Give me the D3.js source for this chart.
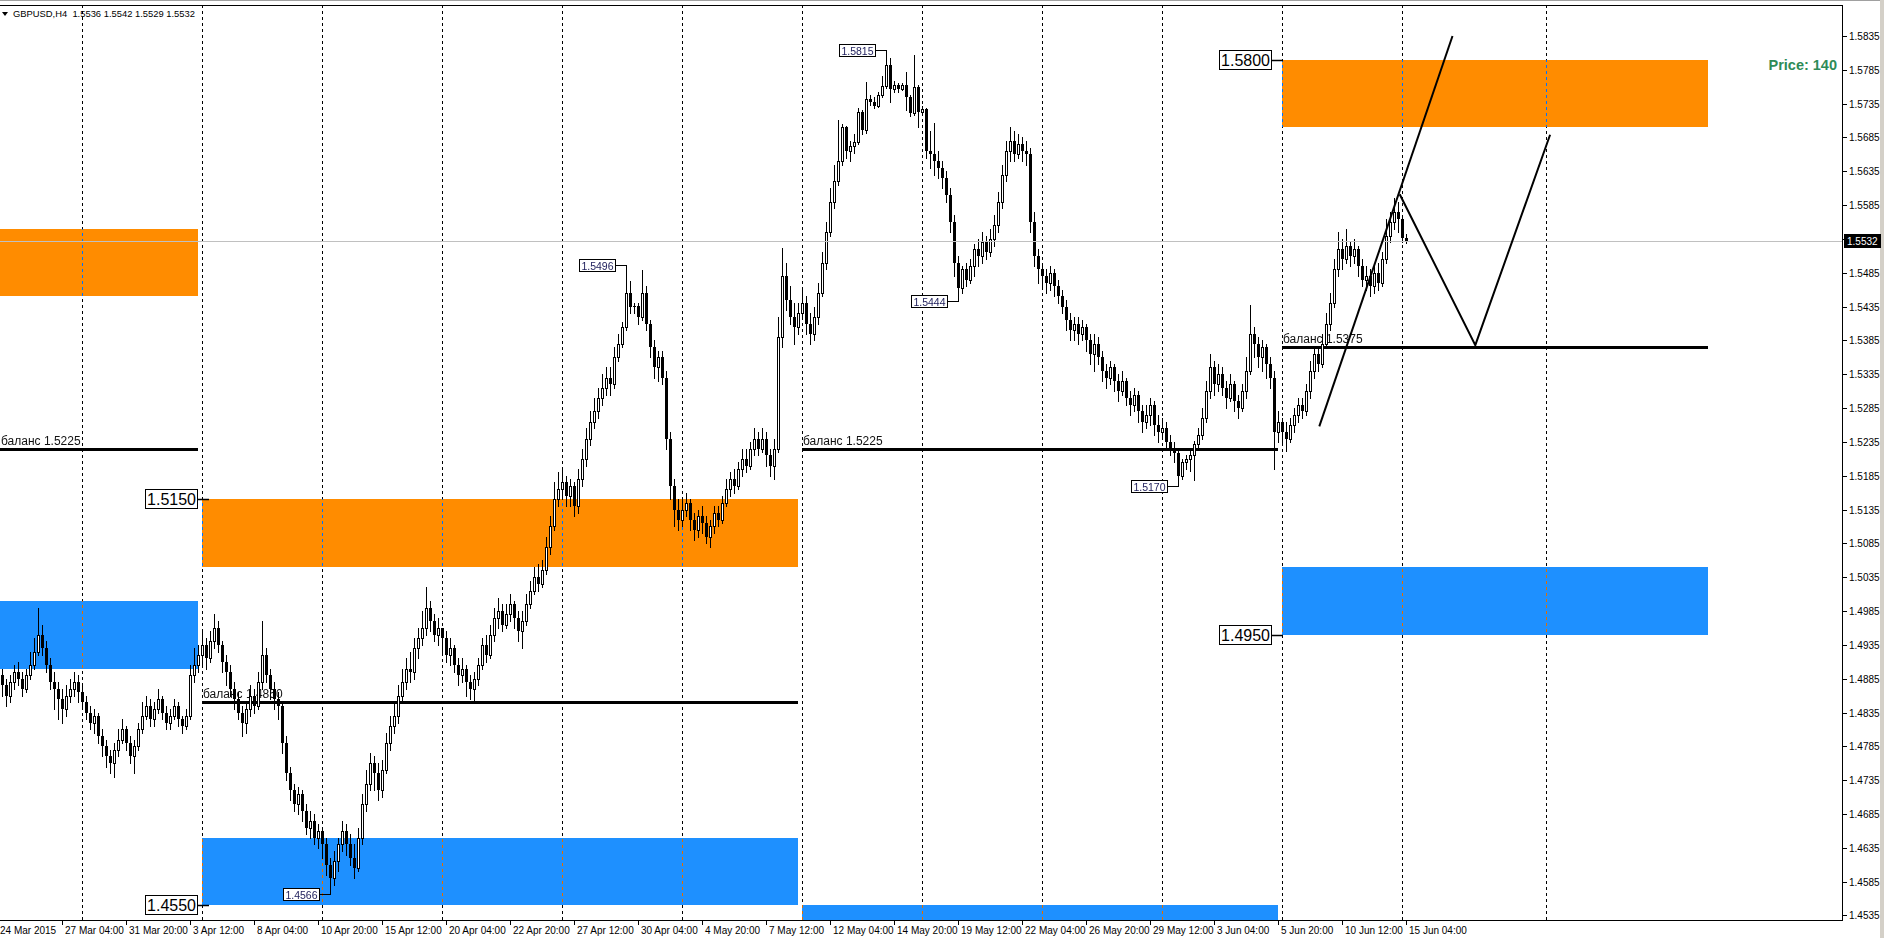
<!DOCTYPE html>
<html>
<head>
<meta charset="utf-8">
<script src="https://cdn.jsdelivr.net/npm/d3@7/dist/d3.min.js"></script>
<style>
	html, body { margin: 0; padding: 0; background: #fff; overflow: hidden; }
	svg { display: block; font-family: "Liberation Sans", Arial, sans-serif; }
</style>
</head>
<body>
<div id="chart"></div>
<script>
// GBPUSD H4. bar index 0 = 23 Mar 2015 00:00, 30 bars per trading week
// prices are stored as the 4 digits after "1." (4890 -> 1.4890), open = previous close
const symbol = 'GBPUSD,H4';
const firstBar = 9;
const firstOpen = 4880;

const closes = [
	4890,4875,4860,4880,4895,4885,4870,4890,4905,4925,4950,4930,4905,4880,4870,4855,4840,4860,4870,4880,4865,
	4850,4835,4820,4830,4800,4785,4770,4760,4780,4795,4810,4790,4770,4785,4810,4830,4845,4825,4840,4855,4835,4820,4830,4845,4825,4815,4830,4890,4905,4920,
	4935,4915,4940,4960,4935,4910,4895,4870,4855,4835,4820,4840,4860,4845,4880,4920,4890,4870,4855,4845,4790,4745,4720,4700,4715,4690,4665,4675,4650,4660,
	4640,4610,4590,4615,4640,4660,4640,4620,4605,4650,4700,4730,4760,4745,4720,4750,4790,4815,4830,4860,4880,4900,4895,4930,4945,4960,4990,4970,4950,4960,
	4945,4920,4930,4905,4890,4900,4880,4870,4885,4905,4935,4920,4950,4975,4985,4965,4980,4995,4975,4955,4970,4995,5015,5035,5025,5045,5080,5110,5150,5165,
	5175,5155,5170,5140,5180,5210,5240,5265,5280,5300,5315,5330,5320,5360,5380,5405,5455,5434,5436,5420,5455,5410,5375,5345,5360,5330,5240,5170,5135,5120,
	5135,5145,5120,5105,5125,5115,5095,5110,5130,5120,5145,5165,5180,5170,5195,5210,5200,5225,5240,5225,5240,5215,5200,5225,5390,5480,5445,5420,5405,5425,
	5440,5410,5395,5420,5455,5500,5545,5590,5620,5650,5700,5665,5672,5678,5723,5696,5742,5738,5732,5748,5761,5792,5756,5763,5757,5762,5745,5721,5760,5722,
	5727,5665,5660,5650,5640,5625,5600,5560,5500,5462,5490,5475,5495,5520,5510,5530,5515,5535,5555,5590,5630,5665,5680,5660,5675,5665,5660,5560,5510,5490,
	5480,5470,5485,5465,5450,5435,5415,5400,5410,5395,5405,5385,5365,5380,5360,5340,5330,5345,5325,5310,5325,5300,5290,5305,5280,5265,5275,5290,5260,5250,
	5255,5235,5225,5218,5184,5206,5210,5215,5232,5245,5270,5310,5345,5320,5335,5315,5300,5320,5295,5285,5310,5340,5395,5380,5360,5375,5350,5330,5250,5265,
	5250,5240,5260,5275,5290,5280,5310,5340,5365,5350,5380,5410,5440,5490,5520,5505,5525,5510,5520,5495,5475,5480,5465,5485,5470,5505,5540,5560,5575,5565,
	5536,5532
];
const highs = [
	4910,4900,4885,4890,4905,4910,4895,4900,4925,4945,4990,4965,4940,4915,4895,4880,4870,4875,4885,4895,4890,
	4875,4860,4845,4840,4835,4810,4795,4780,4790,4810,4825,4815,4800,4795,4820,4850,4860,4855,4850,4870,4860,4845,4840,4855,4850,4830,4840,4905,4930,4935,
	4955,4945,4955,4980,4970,4940,4920,4905,4880,4865,4845,4850,4875,4870,4895,4970,4930,4900,4880,4865,4850,4800,4755,4730,4725,4720,4700,4690,4685,4670,
	4665,4650,4620,4630,4650,4675,4670,4655,4640,4665,4715,4750,4775,4770,4760,4765,4805,4830,4850,4875,4900,4915,4925,4945,4960,4985,5020,5000,4980,4975,
	4960,4955,4945,4935,4915,4915,4905,4890,4895,4915,4945,4950,4965,4990,5005,4995,4995,5010,5000,4985,4985,5010,5030,5050,5055,5060,5095,5125,5175,5190,
	5195,5185,5180,5175,5195,5225,5255,5280,5300,5315,5335,5345,5345,5375,5395,5412,5496,5473,5440,5440,5489,5465,5415,5385,5370,5370,5340,5250,5180,5150,
	5150,5160,5150,5130,5135,5140,5125,5120,5140,5140,5155,5180,5190,5195,5205,5225,5225,5235,5255,5250,5255,5250,5225,5240,5420,5522,5500,5465,5440,5440,
	5460,5450,5425,5435,5470,5515,5560,5610,5645,5711,5705,5702,5680,5690,5728,5726,5767,5748,5745,5752,5776,5815,5802,5768,5766,5766,5782,5748,5807,5762,
	5732,5728,5694,5706,5665,5650,5635,5610,5570,5510,5495,5500,5505,5528,5535,5545,5540,5550,5570,5605,5645,5680,5700,5695,5690,5685,5680,5670,5575,5520,
	5500,5490,5495,5490,5475,5460,5445,5425,5420,5420,5415,5410,5395,5395,5390,5370,5350,5355,5350,5335,5340,5330,5310,5315,5310,5290,5290,5300,5295,5275,
	5270,5265,5245,5235,5222,5210,5215,5222,5236,5255,5285,5325,5365,5355,5350,5345,5325,5335,5325,5305,5320,5360,5438,5405,5390,5385,5380,5360,5340,5280,
	5270,5265,5270,5285,5300,5300,5320,5355,5375,5375,5395,5425,5455,5505,5545,5535,5550,5530,5535,5525,5505,5495,5490,5495,5500,5515,5565,5575,5595,5590,
	5570,5542
];
const lows = [
	4865,4860,4845,4850,4870,4875,4860,4865,4885,4900,4920,4920,4895,4870,4840,4825,4820,4830,4850,4860,4850,
	4840,4825,4810,4805,4790,4770,4755,4745,4740,4770,4790,4780,4760,4745,4780,4805,4825,4815,4815,4835,4825,4810,4810,4825,4815,4805,4810,4825,4880,4895,
	4905,4900,4910,4930,4925,4895,4875,4860,4840,4825,4800,4805,4830,4835,4840,4870,4880,4855,4840,4825,4775,4735,4705,4690,4685,4675,4655,4650,4640,4635,
	4620,4595,4566,4580,4600,4630,4625,4610,4590,4600,4640,4690,4720,4720,4705,4710,4745,4780,4805,4820,4850,4870,4880,4885,4915,4935,4950,4955,4940,4935,
	4925,4910,4905,4895,4875,4880,4860,4855,4850,4875,4900,4910,4915,4940,4960,4955,4960,4970,4960,4940,4930,4965,4990,5010,5015,5020,5040,5070,5105,5140,
	5150,5140,5140,5125,5130,5170,5200,5230,5255,5270,5290,5305,5305,5315,5355,5375,5400,5425,5425,5410,5415,5400,5360,5330,5325,5320,5225,5150,5110,5105,
	5110,5125,5105,5090,5095,5100,5085,5080,5100,5110,5115,5140,5155,5160,5165,5185,5190,5195,5215,5215,5220,5200,5185,5180,5220,5375,5430,5410,5380,5395,
	5420,5395,5380,5385,5410,5450,5490,5540,5580,5615,5645,5655,5650,5662,5675,5690,5692,5733,5728,5730,5745,5758,5738,5752,5752,5755,5726,5716,5718,5701,
	5718,5655,5640,5630,5625,5610,5590,5545,5480,5444,5455,5465,5470,5480,5495,5500,5505,5510,5525,5545,5580,5620,5650,5650,5655,5650,5645,5545,5495,5470,
	5465,5455,5460,5450,5440,5425,5400,5385,5385,5380,5385,5370,5350,5340,5350,5325,5315,5320,5310,5295,5305,5290,5275,5280,5265,5250,5255,5260,5245,5235,
	5240,5225,5215,5205,5170,5180,5195,5192,5179,5225,5240,5265,5300,5305,5310,5305,5285,5295,5280,5270,5280,5300,5335,5360,5345,5340,5330,5315,5195,5235,
	5235,5222,5235,5250,5265,5270,5275,5300,5330,5340,5345,5375,5400,5435,5480,5490,5500,5495,5500,5480,5465,5460,5450,5455,5460,5465,5500,5530,5550,5545,
	5530,5529
];

// weekly period separators (bar index of Monday 00:00)
const weekSeparators = [30, 60, 90, 120, 150, 180, 210, 240, 270, 300, 330, 360, 396];

// time axis
const tickBars = [7, 25, 41, 57, 73, 89, 105, 121, 137, 153, 169, 185, 201, 217, 233, 249, 265, 281, 297, 313, 329, 345, 361];
const tickLabels = ['24 Mar 2015', '27 Mar 04:00', '31 Mar 20:00', '3 Apr 12:00', '8 Apr 04:00', '10 Apr 20:00', '15 Apr 12:00',
	'20 Apr 04:00', '22 Apr 20:00', '27 Apr 12:00', '30 Apr 04:00', '4 May 20:00', '7 May 12:00', '12 May 04:00', '14 May 20:00',
	'19 May 12:00', '22 May 04:00', '26 May 20:00', '29 May 12:00', '3 Jun 04:00', '5 Jun 20:00', '10 Jun 12:00', '15 Jun 04:00'];

// price axis
const priceTicks = ['1.5835', '1.5785', '1.5735', '1.5685', '1.5635', '1.5585', '1.5535', '1.5485', '1.5435', '1.5385', '1.5335',
	'1.5285', '1.5235', '1.5185', '1.5135', '1.5085', '1.5035', '1.4985', '1.4935', '1.4885', '1.4835', '1.4785', '1.4735',
	'1.4685', '1.4635', '1.4585', '1.4535'];

// supply / demand zones
const zoneKind = ['sell', 'buy', 'sell', 'buy', 'buy', 'sell', 'buy'];
const zoneStart = [-20, -20, 60, 60, 210, 330, 330];
const zoneEnd = [59, 59, 209, 209, 329, 436.6, 436.6];
const zoneHigh = [1.5550, 1.5000, 1.5150, 1.4650, 1.4550, 1.5800, 1.5050];
const zoneLow = [1.5450, 1.4900, 1.5050, 1.4550, 1.4450, 1.5700, 1.4950];

// balance lines
const balanceStart = [-20, 60, 210, 330];
const balanceEnd = [59, 209, 329, 436.6];
const balancePrice = [1.5225, 1.4850, 1.5225, 1.5375];

// big level labels
const levelPrice = [1.5800, 1.5150, 1.4950, 1.4550];
const levelAnchorBar = [327.5, 59.1, 327.5, 59.1];

// swing high / low labels
const swingBar = [92, 166, 231, 249, 304];
const swingPrice = [1.4566, 1.5496, 1.5815, 1.5444, 1.5170];

// hand drawn lines [bar, price]
const trendLine = [[339.4, 1.5258], [372.7, 1.5835]];
const zigzag = [[359.5, 1.5601], [378.4, 1.5378], [397.1, 1.5689]];

const priceNote = 'Price: 140';

const W = 1884, H = 938;
const plot = { left: 0, right: 1842, top: 5, bottom: 920 };
const toPrice = v => 1 + v / 10000;

const bars = closes.map((c, k) => ({
	i: firstBar + k,
	o: toPrice(k === 0 ? firstOpen : closes[k - 1]),
	h: toPrice(highs[k]),
	l: toPrice(lows[k]),
	c: toPrice(c)
}));
const last = bars[bars.length - 1];

const x = d3.scaleLinear().domain([0, 460]).range([-38.3, 1801.7]);
const y = d3.scaleLinear().domain([1.45283, 1.58808]).range([plot.bottom, plot.top]);
const px = v => Math.round(x(v));
const py = v => Math.round(y(v));

const svg = d3.select('#chart').append('svg')
	.attr('width', W)
	.attr('height', H)
	.attr('viewBox', `0 0 ${W} ${H}`);

svg.append('rect').attr('width', W).attr('height', H).attr('fill', '#fff');
svg.append('rect').attr('x', 1880).attr('y', 0).attr('width', 4).attr('height', H).attr('fill', '#d4d0c8');
svg.append('rect').attr('x', 0).attr('y', 0).attr('width', 1880).attr('height', 1).attr('fill', '#a0a0a0');

svg.append('defs').append('clipPath').attr('id', 'plotClip')
	.append('rect')
	.attr('x', plot.left).attr('y', plot.top)
	.attr('width', plot.right - plot.left).attr('height', plot.bottom - plot.top);

const g = svg.append('g').attr('clip-path', 'url(#plotClip)');
g.append('rect')
	.attr('x', plot.left).attr('y', plot.top)
	.attr('width', plot.right).attr('height', plot.bottom - plot.top)
	.attr('fill', '#fff');

// zones
const zones = zoneKind.map((kind, k) => ({ kind, s: zoneStart[k], e: zoneEnd[k], hi: zoneHigh[k], lo: zoneLow[k] }));
g.append('g').classed('zones', true)
	.selectAll('rect')
	.data(zones)
	.join('rect')
	.attr('x', d => px(d.s))
	.attr('width', d => px(d.e) - px(d.s))
	.attr('y', d => py(d.hi))
	.attr('height', d => py(d.lo) - py(d.hi))
	.attr('fill', d => d.kind === 'sell' ? '#ff8c00' : '#1e90ff');

// period separators, drawn inverted like the terminal does
g.append('g').classed('separators', true)
	.style('mix-blend-mode', 'difference')
	.selectAll('line')
	.data(weekSeparators)
	.join('line')
	.attr('x1', d => px(d) + 0.5)
	.attr('x2', d => px(d) + 0.5)
	.attr('y1', plot.top)
	.attr('y2', plot.bottom)
	.attr('stroke', '#fff')
	.attr('stroke-width', 1)
	.attr('stroke-dasharray', '3,3');

// balance lines
const balance = balancePrice.map((p, k) => ({ p, s: balanceStart[k], e: balanceEnd[k] }));
const balG = g.append('g').classed('balance', true);
balG.selectAll('line')
	.data(balance)
	.join('line')
	.attr('x1', d => px(d.s))
	.attr('x2', d => px(d.e))
	.attr('y1', d => py(d.p) + 0.5)
	.attr('y2', d => py(d.p) + 0.5)
	.attr('stroke', '#000')
	.attr('stroke-width', 3);
balG.selectAll('text')
	.data(balance)
	.join('text')
	.attr('x', d => Math.max(px(d.s), 0) + 1)
	.attr('y', d => py(d.p) - 4)
	.attr('font-size', 12)
	.attr('fill', '#111')
	.text(d => 'баланс ' + d.p.toFixed(4));

// candles
const candleG = g.append('g').classed('candles', true)
	.selectAll('g')
	.data(bars)
	.join('g');

candleG.append('line')
	.attr('x1', d => px(d.i) + 0.5)
	.attr('x2', d => px(d.i) + 0.5)
	.attr('y1', d => py(d.h))
	.attr('y2', d => py(d.l) + 1)
	.attr('stroke', '#000')
	.attr('stroke-width', 1);

candleG.append('rect')
	.each(function(d) {
		const top = py(Math.max(d.o, d.c));
		const bot = py(Math.min(d.o, d.c));
		const sel = d3.select(this);
		if (d.c >= d.o && bot - top >= 2) {
			sel.attr('x', px(d.i) - 0.5).attr('y', top + 0.5)
				.attr('width', 2).attr('height', bot - top)
				.attr('fill', '#fff').attr('stroke', '#000').attr('stroke-width', 1);
		} else {
			sel.attr('x', px(d.i) - 1).attr('y', top)
				.attr('width', 3).attr('height', Math.max(bot - top, 1))
				.attr('fill', '#000');
		}
	});

// bid line
g.append('line')
	.attr('x1', plot.left).attr('x2', plot.right)
	.attr('y1', py(last.c) + 0.5).attr('y2', py(last.c) + 0.5)
	.attr('stroke', '#c0c0c0')
	.attr('stroke-width', 1);

// hand drawn lines
const drawLine = d3.line().x(d => x(d[0])).y(d => y(d[1]));
g.append('path').attr('d', drawLine(trendLine)).attr('fill', 'none').attr('stroke', '#000').attr('stroke-width', 2);
g.append('path').attr('d', drawLine(zigzag)).attr('fill', 'none').attr('stroke', '#000').attr('stroke-width', 2);

// swing labels
const swings = swingBar.map((b, k) => ({ b, p: swingPrice[k] }));
const swingG = g.append('g').classed('swing', true)
	.selectAll('g')
	.data(swings)
	.join('g');
swingG.append('line')
	.attr('x1', d => px(d.b) - 10)
	.attr('x2', d => px(d.b) + 1)
	.attr('y1', d => py(d.p) + 0.5)
	.attr('y2', d => py(d.p) + 0.5)
	.attr('stroke', '#000');
swingG.append('rect')
	.attr('x', d => px(d.b) - 46.5)
	.attr('y', d => py(d.p) - 5.5)
	.attr('width', 36)
	.attr('height', 12)
	.attr('fill', '#fff')
	.attr('stroke', '#000');
swingG.append('text')
	.attr('x', d => px(d.b) - 28.5)
	.attr('y', d => py(d.p) + 4.5)
	.attr('text-anchor', 'middle')
	.attr('font-size', 10.5)
	.attr('fill', '#1c1c5a')
	.text(d => d.p.toFixed(4));

// level labels
const levels = levelPrice.map((p, k) => ({ p, a: levelAnchorBar[k] }));
const levelG = svg.append('g').classed('levels', true)
	.selectAll('g')
	.data(levels)
	.join('g');
levelG.append('line')
	.attr('x1', d => px(d.a))
	.attr('x2', d => px(d.a) + 11)
	.attr('y1', d => py(d.p) + 0.5)
	.attr('y2', d => py(d.p) + 0.5)
	.attr('stroke', '#000')
	.attr('stroke-width', 1.5);
levelG.append('rect')
	.attr('x', d => px(d.a) - 52.5)
	.attr('y', d => py(d.p) - 9.5)
	.attr('width', 52)
	.attr('height', 19)
	.attr('fill', '#fff')
	.attr('stroke', '#000');
levelG.append('text')
	.attr('x', d => px(d.a) - 26.5)
	.attr('y', d => py(d.p) + 6)
	.attr('text-anchor', 'middle')
	.attr('font-size', 16)
	.attr('fill', '#000')
	.text(d => d.p.toFixed(4));

// frame
const frame = svg.append('g').attr('stroke', '#000').attr('stroke-width', 1);
frame.append('line').attr('x1', 0).attr('x2', plot.right + 1).attr('y1', plot.top + 0.5).attr('y2', plot.top + 0.5);
frame.append('line').attr('x1', plot.right + 0.5).attr('x2', plot.right + 0.5).attr('y1', plot.top).attr('y2', plot.bottom + 1);
frame.append('line').attr('x1', 0).attr('x2', plot.right + 1).attr('y1', plot.bottom + 0.5).attr('y2', plot.bottom + 0.5);

// price axis
const yAxis = svg.append('g').classed('y_axis', true);
yAxis.selectAll('line')
	.data(priceTicks)
	.join('line')
	.attr('x1', plot.right + 1).attr('x2', plot.right + 5)
	.attr('y1', d => py(+d) + 0.5).attr('y2', d => py(+d) + 0.5)
	.attr('stroke', '#000');
yAxis.selectAll('text')
	.data(priceTicks)
	.join('text')
	.attr('x', plot.right + 7)
	.attr('y', d => py(+d) + 4)
	.attr('font-size', 10)
	.attr('fill', '#000')
	.text(d => d);

// current price tag
yAxis.append('rect')
	.attr('x', plot.right + 2).attr('y', py(last.c) - 7)
	.attr('width', 37).attr('height', 14)
	.attr('fill', '#000');
yAxis.append('text')
	.attr('x', plot.right + 5).attr('y', py(last.c) + 4)
	.attr('font-size', 10)
	.attr('fill', '#fff')
	.text(last.c.toFixed(4));

// time axis
const xAxis = svg.append('g').classed('x_axis', true);
const ticks = tickBars.map((b, k) => ({ b, label: tickLabels[k] }));
xAxis.selectAll('line')
	.data(ticks.slice(1))
	.join('line')
	.attr('x1', d => px(d.b) + 0.5).attr('x2', d => px(d.b) + 0.5)
	.attr('y1', plot.bottom).attr('y2', plot.bottom + 5)
	.attr('stroke', '#000');
xAxis.selectAll('text')
	.data(ticks)
	.join('text')
	.attr('x', d => Math.max(px(d.b) + 3, 0))
	.attr('y', plot.bottom + 14)
	.attr('font-size', 10)
	.attr('fill', '#000')
	.text(d => d.label);

// header
svg.append('path').attr('d', 'M2,12 L8,12 L5,16 Z').attr('fill', '#000');
svg.append('text')
	.attr('x', 13).attr('y', 17)
	.attr('font-size', 9.4)
	.attr('fill', '#000')
	.attr('xml:space', 'preserve')
	.text(`${symbol}  ${last.o.toFixed(4)} ${last.h.toFixed(4)} ${last.l.toFixed(4)} ${last.c.toFixed(4)}`);

svg.append('text')
	.attr('x', 1837).attr('y', 70)
	.attr('text-anchor', 'end')
	.attr('font-size', 14.5)
	.attr('font-weight', 'bold')
	.attr('fill', '#2e8b57')
	.text(priceNote);
</script>
</body>
</html>
